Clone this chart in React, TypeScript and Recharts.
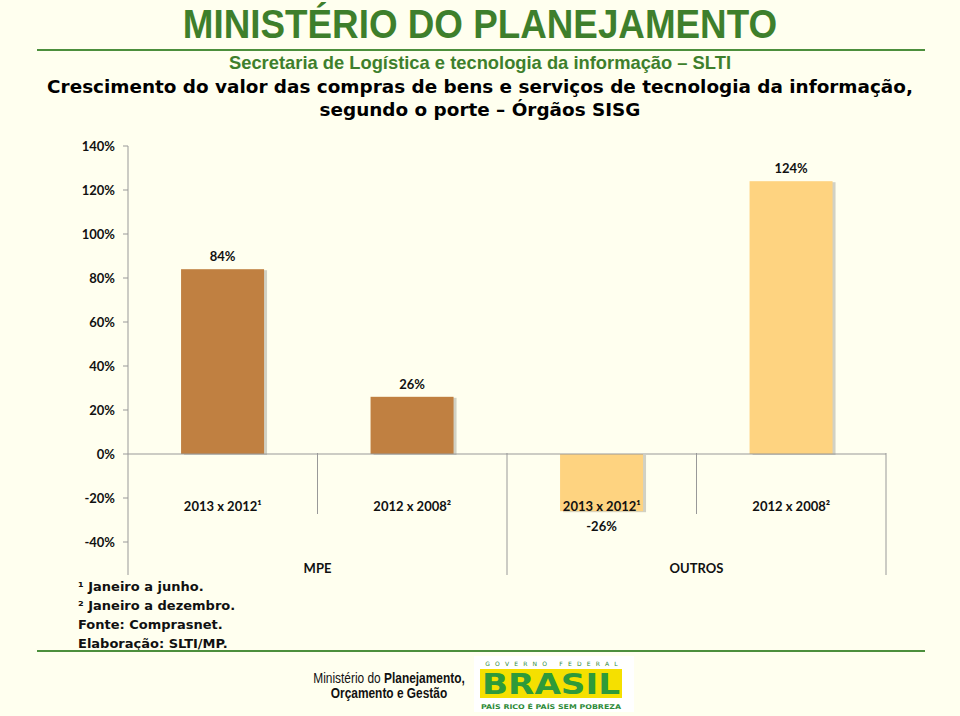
import React from "react";
import {
	BarChart,
	Bar,
	Cell,
	XAxis,
	YAxis,
	ReferenceLine,
	LabelList,
} from "recharts";

// crescimento do valor das compras de TI, por porte
const periodos = ["2013 x 2012¹", "2012 x 2008²", "2013 x 2012¹", "2012 x 2008²"];
const grupos = ["MPE", "MPE", "OUTROS", "OUTROS"];
const crescimento = [84, 26, -26, 124];
const yTicks = [-40, -20, 0, 20, 40, 60, 80, 100, 120, 140];

const notas = [
	"¹ Janeiro a junho.",
	"² Janeiro a dezembro.",
	"Fonte: Comprasnet.",
	"Elaboração: SLTI/MP.",
];

const corGrupo: Record<string, string> = {
	MPE: "#C08041",
	OUTROS: "#FED380",
};

const data = periodos.map((p, i) => ({
	periodo: p,
	grupo: grupos[i],
	valor: crescimento[i],
}));

const BG = "#FFFFEF";
const GREEN = "#3E7F2C";
const NARROW = '"Liberation Sans Narrow", "Liberation Sans", Arial, sans-serif';
const AXISFONT = 'Lato, "Open Sans", sans-serif';

const ZERO_FROM_BOTTOM = 122; // px between the 0% line and the plot bottom

const CategoryTick = (props: any) => {
	const { x, y, payload, index } = props;
	const half = payload.offset ?? 94.75;
	const zeroY = y - ZERO_FROM_BOTTOM;
	const long = index % 2 === 1;
	return (
		<g>
			<text
				x={x}
				y={zeroY + 58}
				textAnchor="middle"
				fontFamily={AXISFONT}
				fontWeight={700}
				fontSize={13}
				fill="#111"
			>
				{payload.value}
			</text>
			<line
				x1={x + half}
				x2={x + half}
				y1={zeroY}
				y2={long ? zeroY + 122 : zeroY + 61}
				stroke="#999"
			/>
			{index % 2 === 0 && (
				<text
					x={x + half}
					y={zeroY + 120}
					textAnchor="middle"
					fontFamily={AXISFONT}
					fontWeight={700}
					fontSize={13}
					fill="#111"
				>
					{grupos[index]}
				</text>
			)}
		</g>
	);
};

const ShadowBar = (props: any) => {
	const { x, y, width, height, fill } = props;
	const top = Math.min(y, y + height);
	const h = Math.abs(height);
	return (
		<g>
			<rect x={x + 3} y={top + 1} width={width} height={h} fill="#000" opacity={0.18} />
			<rect x={x} y={top} width={width} height={h} fill={fill} />
		</g>
	);
};

const ValueLabel = (props: any) => {
	const { x, y, width, height, value } = props;
	const top = Math.min(y, y + height);
	const bottom = Math.max(y, y + height);
	const ty = value < 0 ? bottom + 20 : top - 8;
	return (
		<text
			x={x + width / 2}
			y={ty}
			textAnchor="middle"
			fontFamily={AXISFONT}
			fontWeight={700}
			fontSize={13}
			fill="#111"
		>
			{value}%
		</text>
	);
};

const Logo = () => (
	<svg width={160} height={56} style={{ position: "absolute", left: 474, top: 656 }}>
		<rect x={0} y={0} width={160} height={56} fill="#fff" />
		<text x={80} y={10} textAnchor="middle" fontFamily="DejaVu Sans" fontSize={6} fill="#2E8B3A" letterSpacing={5.2}>
			GOVERNO FEDERAL
		</text>
		<rect x={6} y={13} width={142} height={29} fill="#F5E000" />
		<text x={77} y={38} textAnchor="middle" fontFamily="DejaVu Sans" fontWeight={700} fontSize={28} fill="#2E9A3A" textLength={138} lengthAdjust="spacingAndGlyphs">
			BRASIL
		</text>
		<text x={77} y={53} textAnchor="middle" fontFamily="DejaVu Sans" fontWeight={700} fontSize={6.5} fill="#2E8B3A" textLength={140} lengthAdjust="spacingAndGlyphs">
			PAÍS RICO É PAÍS SEM POBREZA
		</text>
	</svg>
);

export default function App() {
	return (
		<div
			style={{
				position: "absolute",
				left: 0,
				top: 0,
				width: 960,
				height: 716,
				background: BG,
				overflow: "hidden",
			}}
		>
			<div
				style={{
					position: "absolute",
					top: 1,
					width: 960,
					textAlign: "center",
					fontFamily: NARROW,
					fontWeight: 700,
					fontSize: 40,
					color: GREEN,
					lineHeight: "46px",
					transform: "scaleX(0.92)",
				}}
			>
				MINISTÉRIO DO PLANEJAMENTO
			</div>
			<div style={{ position: "absolute", left: 37, top: 49, width: 888, height: 2, background: "#4C8F3C" }} />
			<div
				style={{
					position: "absolute",
					top: 52,
					width: 960,
					textAlign: "center",
					fontFamily: NARROW,
					fontWeight: 700,
					fontSize: 19,
					color: GREEN,
					lineHeight: "22px",
					transform: "scaleX(0.965)",
				}}
			>
				Secretaria de Logística e tecnologia da informação – SLTI
			</div>
			<div
				style={{
					position: "absolute",
					top: 75,
					width: 960,
					textAlign: "center",
					fontFamily: '"DejaVu Sans", Verdana, sans-serif',
					fontWeight: 700,
					fontSize: 18.4,
					color: "#000",
					lineHeight: "23px",
				}}
			>
				Crescimento do valor das compras de bens e serviços de tecnologia da informação,
				<br />
				segundo o porte – Órgãos SISG
			</div>

			<div style={{ position: "absolute", left: 0, top: 0 }}>
				<BarChart
					width={960}
					height={716}
					data={data}
					margin={{ top: 146, right: 74, bottom: 121, left: 0 }}
					barCategoryGap="28%"
				>
					<YAxis
						width={128}
						domain={[-55, 140]}
						ticks={yTicks}
						interval={0}
						tickFormatter={(v: number) => `${v}%`}
						axisLine={{ stroke: "#999" }}
						tickLine={{ stroke: "#999" }}
						tickSize={5}
						tickMargin={8}
						tick={{ fontFamily: AXISFONT, fontWeight: 700, fontSize: 13, fill: "#111" }}
					/>
					<XAxis
						dataKey="periodo"
						height={20}
						axisLine={false}
						tickLine={false}
						tickSize={0}
						tickMargin={0}
						interval={0}
						tick={<CategoryTick />}
					/>
					<ReferenceLine y={0} stroke="#999" />
					<Bar dataKey="valor" isAnimationActive={false} shape={<ShadowBar />}>
						{data.map((d, i) => (
							<Cell key={i} fill={corGrupo[d.grupo]} />
						))}
						<LabelList dataKey="valor" content={<ValueLabel />} />
					</Bar>
				</BarChart>
			</div>

			<div
				style={{
					position: "absolute",
					left: 78,
					top: 577,
					fontFamily: '"DejaVu Sans", Verdana, sans-serif',
					fontWeight: 700,
					fontSize: 13,
					lineHeight: "19px",
					color: "#111",
				}}
			>
				{notas.map((n) => (
					<div key={n}>{n}</div>
				))}
			</div>
			<div style={{ position: "absolute", left: 37, top: 650, width: 888, height: 2, background: "#4C8F3C" }} />

			<div
				style={{
					position: "absolute",
					left: 269,
					top: 671,
					width: 240,
					textAlign: "center",
					fontFamily: NARROW,
					fontSize: 14,
					lineHeight: "15px",
					color: "#111",
					transform: "scaleX(0.85)",
				}}
			>
				Ministério do <b>Planejamento,</b>
				<br />
				<b>Orçamento e Gestão</b>
			</div>
			<Logo />
		</div>
	);
}
